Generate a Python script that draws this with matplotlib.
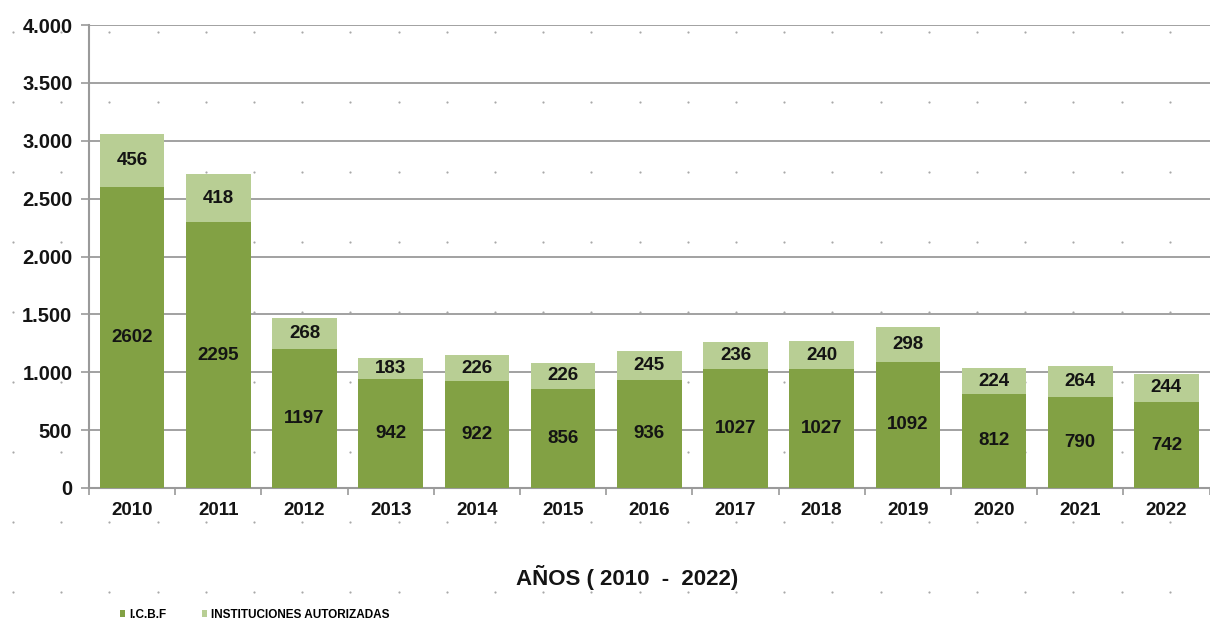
import numpy as np
import matplotlib
matplotlib.use("Agg")
import matplotlib.pyplot as plt
from matplotlib.ticker import FuncFormatter, FixedLocator

years = ["2010", "2011", "2012", "2013", "2014", "2015", "2016",
         "2017", "2018", "2019", "2020", "2021", "2022"]
icbf = [2602, 2295, 1197, 942, 922, 856, 936, 1027, 1027, 1092, 812, 790, 742]
autorizadas = [456, 418, 268, 183, 226, 226, 245, 236, 240, 298, 224, 264, 244]

dark_green = "#82a144"
light_green = "#b8ce94"
grid_gray = "#9a9a9a"
text_col = "#141414"

plt.rcParams["font.family"] = ["Liberation Sans", "DejaVu Sans"]
plt.rcParams["font.weight"] = "bold"

fig = plt.figure(figsize=(12.1, 6.28), dpi=100)
fig.patch.set_facecolor("white")

# dotted background texture
bg = fig.add_axes([0, 0, 1, 1], zorder=0)
bg.set_xlim(0, 1210)
bg.set_ylim(628, 0)
bg.axis("off")
gx, gy = np.meshgrid(np.arange(13, 1210, 48.2), np.arange(32, 628, 70))
bg.scatter(gx.ravel(), gy.ravel(), s=2.5, color="#a8a8a8", linewidths=0)

ax = fig.add_axes([0.0736, 0.223, 0.926, 0.737], zorder=1)
ax.patch.set_alpha(0)

x = np.arange(len(years))
w = 0.75
ax.bar(x, icbf, width=w, color=dark_green, zorder=3, label="I.C.B.F")
ax.bar(x, autorizadas, width=w, bottom=icbf, color=light_green, zorder=3,
       label="INSTITUCIONES AUTORIZADAS")

for i in range(len(years)):
    ax.text(x[i], icbf[i] / 2, str(icbf[i]), ha="center", va="center",
            fontsize=13.5, fontweight="bold", color=text_col, zorder=4)
    ax.text(x[i], icbf[i] + autorizadas[i] / 2, str(autorizadas[i]),
            ha="center", va="center", fontsize=13.5, fontweight="bold",
            color=text_col, zorder=4)

ax.set_xlim(-0.5, len(years) - 0.5)
ax.set_ylim(0, 4000)
ax.yaxis.set_major_locator(FixedLocator(np.arange(0, 4001, 500)))
ax.yaxis.set_major_formatter(FuncFormatter(lambda v, p: f"{int(v):,}".replace(",", ".")))
ax.yaxis.grid(True, color=grid_gray, linewidth=1.3, zorder=1)
ax.set_axisbelow(True)

ax.set_xticks(x)
ax.set_xticklabels(years)
ax.set_xticks(np.arange(-0.5, len(years), 1), minor=True)
ax.tick_params(axis="x", which="major", length=0, pad=10, labelsize=13.5)
ax.tick_params(axis="x", which="minor", length=5, color=grid_gray, width=1.2)
ax.tick_params(axis="y", length=6, color=grid_gray, width=1.2, pad=6, labelsize=14.5)
for lab in ax.get_xticklabels() + ax.get_yticklabels():
    lab.set_fontweight("bold")
    lab.set_color(text_col)

for s in ["top", "right"]:
    ax.spines[s].set_visible(False)
for s in ["left", "bottom"]:
    ax.spines[s].set_color(grid_gray)
    ax.spines[s].set_linewidth(1.5)

fig.text(0.518, 0.08, "AÑOS ( 2010  -  2022)", ha="center", va="center",
         fontsize=16, fontweight="bold", color=text_col)

fig.legend(loc="lower left", bbox_to_anchor=(0.09, -0.005), ncol=2, frameon=False,
           handlelength=0.5, handleheight=0.5, handletextpad=0.3,
           columnspacing=3.0, prop={"weight": "bold", "size": 8.5})

fig.savefig("out.png", dpi=100)
